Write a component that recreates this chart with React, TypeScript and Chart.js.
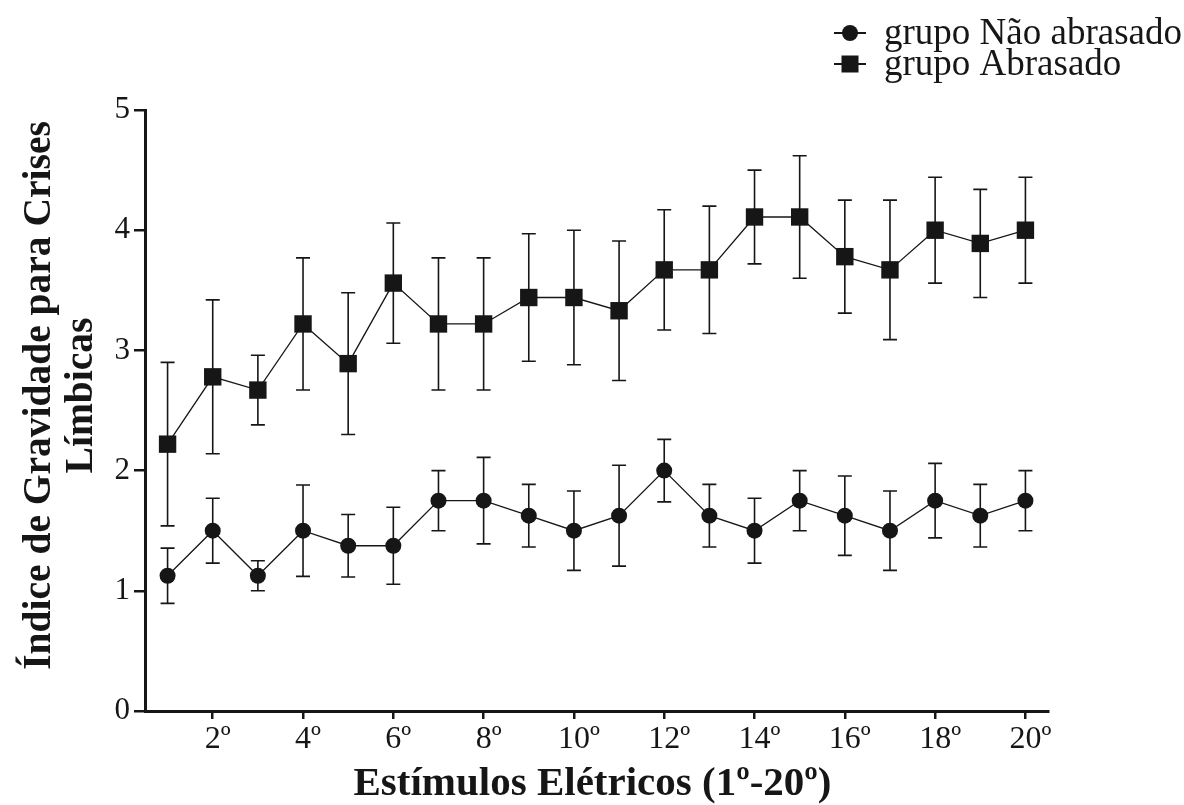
import React, { useEffect, useRef } from 'react';
import { Chart, registerables } from 'chart.js';

Chart.register(...registerables);

// ---- data ----
const stimuli = [1, 2, 3, 4, 5, 6, 7, 8, 9, 10, 11, 12, 13, 14, 15, 16, 17, 18, 19, 20];
const xTickValues = [2, 4, 6, 8, 10, 12, 14, 16, 18, 20];
const xTickLabels = ['2º', '4º', '6º', '8º', '10º', '12º', '14º', '16º', '18º', '20º'];
const yTickValues = [0, 1, 2, 3, 4, 5];
const yTickLabels = ['0', '1', '2', '3', '4', '5'];

const naoAbrasadoMean = [1.125, 1.5, 1.125, 1.5, 1.375, 1.375, 1.75, 1.75, 1.625, 1.5, 1.625, 2.0, 1.625, 1.5, 1.75, 1.625, 1.5, 1.75, 1.625, 1.75];
const naoAbrasadoSem = [0.23, 0.27, 0.125, 0.38, 0.26, 0.32, 0.25, 0.36, 0.26, 0.33, 0.42, 0.26, 0.26, 0.27, 0.25, 0.33, 0.33, 0.31, 0.26, 0.25];
const abrasadoMean = [2.22, 2.78, 2.67, 3.22, 2.89, 3.56, 3.22, 3.22, 3.44, 3.44, 3.33, 3.67, 3.67, 4.11, 4.11, 3.78, 3.67, 4.0, 3.89, 4.0];
const abrasadoSem = [0.68, 0.64, 0.29, 0.55, 0.59, 0.5, 0.55, 0.55, 0.53, 0.56, 0.58, 0.5, 0.53, 0.39, 0.51, 0.47, 0.58, 0.44, 0.45, 0.44];

const seriesNames = ['grupo Não abrasado', 'grupo Abrasado'];
const xTitle = 'Estímulos Elétricos (1º-20º)';
const yTitleLines = ['Índice de Gravidade para Crises', 'Límbicas'];

const INK = '#161616';
const FONT = "'Liberation Serif', 'Times New Roman', serif";

const errorBarPlugin = {
  id: 'errorBars',
  beforeDatasetsDraw(chart: any) {
    const ctx = chart.ctx;
    const yScale = chart.scales.y;
    ctx.save();
    ctx.strokeStyle = INK;
    ctx.lineWidth = 1.6;
    chart.data.datasets.forEach((ds: any, di: number) => {
      const meta = chart.getDatasetMeta(di);
      meta.data.forEach((pt: any, i: number) => {
        const m = ds.data[i].y;
        const e = ds.errors[i];
        const x = pt.x;
        const yt = yScale.getPixelForValue(m + e);
        const yb = yScale.getPixelForValue(m - e);
        const cap = 7;
        ctx.beginPath();
        ctx.moveTo(x, yt);
        ctx.lineTo(x, yb);
        ctx.moveTo(x - cap, yt);
        ctx.lineTo(x + cap, yt);
        ctx.moveTo(x - cap, yb);
        ctx.lineTo(x + cap, yb);
        ctx.stroke();
      });
    });
    ctx.restore();
  },
};

const annotationsPlugin = {
  id: 'customText',
  afterDraw(chart: any) {
    const ctx = chart.ctx;
    const area = chart.chartArea;
    ctx.save();
    ctx.fillStyle = INK;

    // x title
    ctx.font = `bold 41px ${FONT}`;
    ctx.textAlign = 'center';
    ctx.textBaseline = 'middle';
    ctx.fillText(xTitle, (area.left + area.right) / 2 - 4, 784);

    // y title (two lines, rotated)
    const cy = (area.top + area.bottom) / 2 - 15;
    const lineX = [40, 82];
    yTitleLines.forEach((line, i) => {
      ctx.save();
      ctx.translate(lineX[i], cy);
      ctx.rotate(-Math.PI / 2);
      ctx.font = `bold 39.5px ${FONT}`;
      ctx.textAlign = 'center';
      ctx.textBaseline = 'middle';
      ctx.fillText(line, 0, 0);
      ctx.restore();
    });

    // legend
    const rows = [33, 64];
    const markerX = 850;
    ctx.font = `37px ${FONT}`;
    ctx.textAlign = 'left';
    ctx.textBaseline = 'middle';
    chart.data.datasets.forEach((ds: any, i: number) => {
      const y = rows[i];
      ctx.strokeStyle = INK;
      ctx.lineWidth = 2;
      ctx.beginPath();
      ctx.moveTo(markerX - 16, y);
      ctx.lineTo(markerX + 16, y);
      ctx.stroke();
      ctx.fillStyle = INK;
      if (ds.pointStyle === 'circle') {
        ctx.beginPath();
        ctx.arc(markerX, y, 8, 0, Math.PI * 2);
        ctx.fill();
      } else {
        ctx.fillRect(markerX - 8.5, y - 8.5, 17, 17);
      }
      ctx.fillText(seriesNames[i], 884, y + 1);
    });
    ctx.restore();
  },
};

export default function App() {
  const canvasRef = useRef<HTMLCanvasElement | null>(null);

  useEffect(() => {
    if (!canvasRef.current) return;
    const chart = new Chart(canvasRef.current, {
      type: 'line',
      data: {
        datasets: [
          {
            label: seriesNames[0],
            data: stimuli.map((s, i) => ({ x: s, y: naoAbrasadoMean[i] })),
            errors: naoAbrasadoSem,
            borderColor: INK,
            borderWidth: 1.3,
            backgroundColor: INK,
            pointStyle: 'circle',
            pointRadius: 8,
            pointHoverRadius: 8,
            pointBackgroundColor: INK,
            pointBorderColor: INK,
            pointBorderWidth: 0,
            tension: 0,
          } as any,
          {
            label: seriesNames[1],
            data: stimuli.map((s, i) => ({ x: s, y: abrasadoMean[i] })),
            errors: abrasadoSem,
            borderColor: INK,
            borderWidth: 1.3,
            backgroundColor: INK,
            pointStyle: 'rect',
            pointRadius: 12.3,
            pointHoverRadius: 12.3,
            pointBackgroundColor: INK,
            pointBorderColor: INK,
            pointBorderWidth: 0,
            tension: 0,
          } as any,
        ],
      },
      options: {
        animation: false,
        responsive: true,
        maintainAspectRatio: false,
        layout: { padding: { left: 0, top: 110, right: 136, bottom: 0 } },
        plugins: {
          legend: { display: false },
          tooltip: { enabled: false },
        },
        scales: {
          x: {
            type: 'linear',
            min: 0.5,
            max: 20.5,
            afterBuildTicks: (scale: any) => {
              scale.ticks = xTickValues.map((v) => ({ value: v }));
            },
            afterFit: (scale: any) => {
              scale.height = 94;
            },
            ticks: {
              autoSkip: false,
              maxRotation: 0,
              padding: 1,
              labelOffset: 5,
              color: INK,
              font: { family: FONT, size: 32 },
              callback: (value: any) => {
                const idx = xTickValues.indexOf(Number(value));
                return idx >= 0 ? xTickLabels[idx] : '';
              },
            },
            grid: {
              drawOnChartArea: false,
              drawTicks: true,
              tickLength: 8,
              color: INK,
              lineWidth: 2.5,
            },
            border: { display: true, color: INK, width: 3 },
          },
          y: {
            type: 'linear',
            min: 0,
            max: 5,
            afterBuildTicks: (scale: any) => {
              scale.ticks = yTickValues.map((v) => ({ value: v }));
            },
            afterFit: (scale: any) => {
              scale.width = 145;
            },
            ticks: {
              padding: 4,
              color: INK,
              font: { family: FONT, size: 31 },
              callback: (value: any) => {
                const idx = yTickValues.indexOf(Number(value));
                return idx >= 0 ? yTickLabels[idx] : '';
              },
            },
            grid: {
              drawOnChartArea: false,
              drawTicks: true,
              tickLength: 11,
              color: INK,
              lineWidth: 2.5,
            },
            border: { display: true, color: INK, width: 3 },
          },
        },
      },
      plugins: [errorBarPlugin, annotationsPlugin],
    } as any);
    return () => chart.destroy();
  }, []);

  return (
    <div style={{ position: 'absolute', left: 0, top: 0, width: 1184, height: 805, background: '#fff' }}>
      <canvas ref={canvasRef} />
    </div>
  );
}
